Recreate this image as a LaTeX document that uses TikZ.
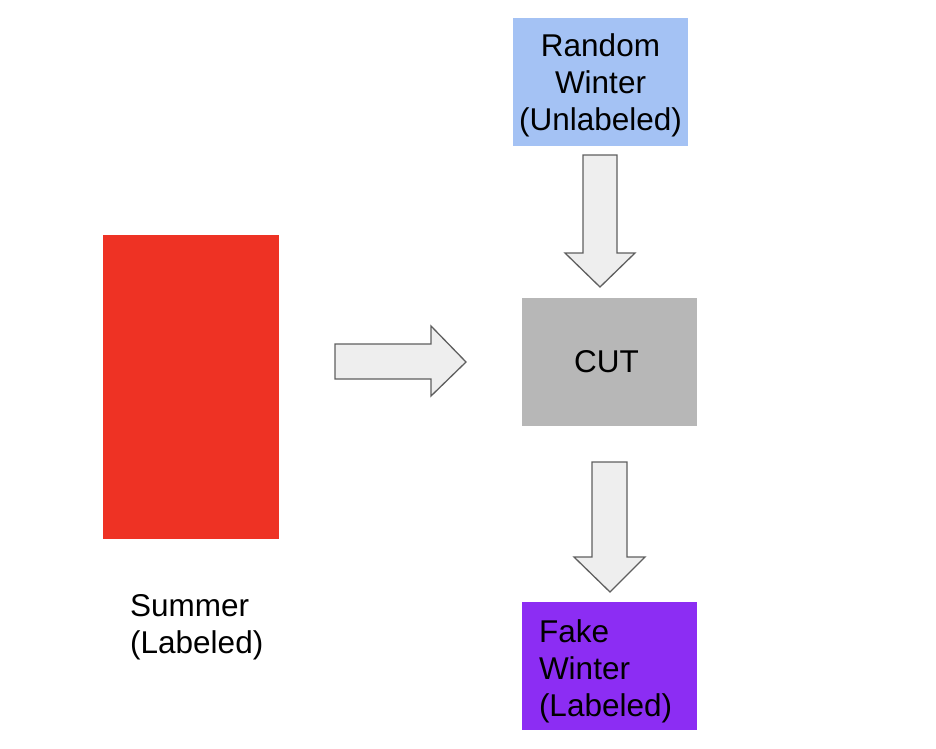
\documentclass[tikz,border=0pt]{standalone}
\usepackage{fontspec}
\setmainfont{Liberation Sans}
\usetikzlibrary{positioning}
\definecolor{summerred}{HTML}{EE3224}
\definecolor{winterblue}{HTML}{A4C2F4}
\definecolor{cutgrey}{HTML}{B7B7B7}
\definecolor{fakepurple}{HTML}{8C2DF3}
\definecolor{arrowfill}{HTML}{EEEEEE}
\definecolor{arrowline}{HTML}{5F5F5F}

\begin{document}
\begin{tikzpicture}[x=1pt, y=-1pt,
	box/.style={minimum width=175pt, minimum height=128pt, inner sep=0pt, align=center, font=\fontsize{31.5}{37}\selectfont},
	blockarrow/.style={draw=arrowline, fill=arrowfill, line width=1.3pt, line join=miter}]
	\useasboundingbox (0,0) rectangle (936,748);
	\node[box, fill=summerred, minimum width=176pt, minimum height=304pt] (summer) at (191,387) {};
	\node[font=\fontsize{31.5}{37}\selectfont, align=left, anchor=west, inner sep=0pt] (summerlbl) at (130,627) {Summer\\(Labeled)};
	\node[box, fill=winterblue] (random) at (600.5,82) {\rule{0pt}{29pt}Random\\Winter\\(Unlabeled)};
	\node[box, fill=cutgrey] (cut) at (609.5,361.5) {\hspace*{-6pt}CUT};
	\node[box, fill=fakepurple, text width=141pt, inner xsep=17pt, align=left] (fake) at (609.5,666) {\rule{0pt}{33pt}Fake\\Winter\\(Labeled)};
	% block arrows
	\draw[blockarrow] (583,155) -- (617,155) -- (617,253) -- (635,253) -- (600,287) -- (565,253) -- (583,253) -- cycle;
	\draw[blockarrow] (335,344) -- (431,344) -- (431,326) -- (466,362) -- (431,396) -- (431,379) -- (335,379) -- cycle;
	\draw[blockarrow] (592,462) -- (627,462) -- (627,557) -- (645,557) -- (610,592) -- (574,557) -- (592,557) -- cycle;
\end{tikzpicture}
\end{document}
